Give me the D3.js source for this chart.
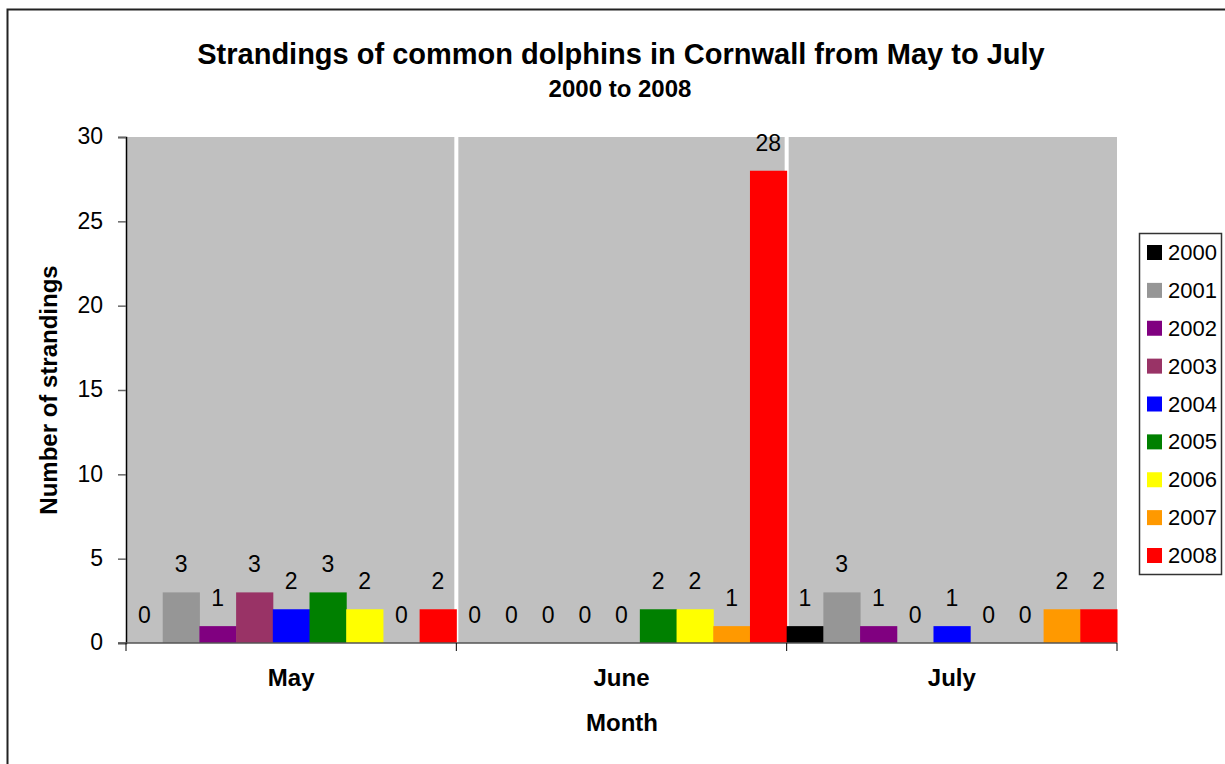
<!DOCTYPE html>
<html>
<head>
<meta charset="utf-8">
<script src="https://cdn.jsdelivr.net/npm/d3@7"></script>
<style>
  body { margin: 0; background: #fff; }
  svg { display: block; font-family: "Liberation Sans", Arial, sans-serif; }
</style>
</head>
<body>
<div id="chart"></div>
<script>
let months = ["May", "June", "July"];
let years = ["2000", "2001", "2002", "2003", "2004", "2005", "2006", "2007", "2008"];
let colors = ["#000000", "#969696", "#800080", "#993366", "#0000FF", "#008000", "#FFFF00", "#FF9900", "#FF0000"];
let may = [0, 3, 1, 3, 2, 3, 2, 0, 2];
let june = [0, 0, 0, 0, 0, 2, 2, 1, 28];
let july = [1, 3, 1, 0, 1, 0, 0, 2, 2];
let yTicks = [0, 5, 10, 15, 20, 25, 30];

let values = [may, june, july];

let width = 1225;
let height = 764;
let plot = { left: 126, right: 1117, top: 137, bottom: 643 };

let svg = d3.select("#chart").append("svg")
  .attr("width", width)
  .attr("height", height);

// outer chart border
svg.append("rect")
  .attr("x", 7.5).attr("y", 9.5)
  .attr("width", 1240).attr("height", 800)
  .attr("fill", "#fff")
  .attr("stroke", "#222")
  .attr("stroke-width", 2);

let x0 = d3.scaleBand()
  .domain(months)
  .range([plot.left, plot.right])
  .padding(0);

let x1 = d3.scaleBand()
  .domain(years)
  .range([0, x0.bandwidth()])
  .padding(0);

let y = d3.scaleLinear()
  .domain([0, 30])
  .range([plot.bottom, plot.top]);

// plot background
svg.append("rect")
  .attr("x", plot.left).attr("y", plot.top)
  .attr("width", plot.right - plot.left)
  .attr("height", plot.bottom - plot.top)
  .attr("fill", "#C0C0C0");

// white separators between months
svg.selectAll(".sep")
  .data(months.slice(1))
  .enter().append("line")
  .attr("x1", function(d) { return x0(d); })
  .attr("x2", function(d) { return x0(d); })
  .attr("y1", plot.top).attr("y2", plot.bottom)
  .attr("stroke", "#fff")
  .attr("stroke-width", 4);

// bars
let groups = svg.selectAll(".month")
  .data(months)
  .enter().append("g")
  .attr("class", "month")
  .attr("transform", function(d) { return "translate(" + x0(d) + ",0)"; });

groups.selectAll("rect")
  .data(function(d, i) {
    return values[i].map(function(v, j) { return { year: years[j], value: v, color: colors[j] }; });
  })
  .enter().append("rect")
  .attr("x", function(d) { return x1(d.year); })
  .attr("y", function(d) { return y(d.value); })
  .attr("width", x1.bandwidth() + 0.5)
  .attr("height", function(d) { return plot.bottom - y(d.value); })
  .attr("fill", function(d) { return d.color; });

groups.selectAll("text")
  .data(function(d, i) {
    return values[i].map(function(v, j) { return { year: years[j], value: v }; });
  })
  .enter().append("text")
  .attr("x", function(d) { return x1(d.year) + x1.bandwidth() / 2; })
  .attr("y", function(d) { return y(d.value) - 20; })
  .attr("text-anchor", "middle")
  .attr("font-size", 23)
  .attr("fill", "#000")
  .text(function(d) { return d.value; });

// y axis
let yAxis = svg.append("g")
  .attr("transform", "translate(" + plot.left + ",0)")
  .call(d3.axisLeft(y).tickValues(yTicks).tickSize(8).tickPadding(15));
yAxis.select(".domain").attr("stroke", "#000").attr("stroke-width", 1.5);
yAxis.selectAll(".tick line").attr("stroke", "#666").attr("stroke-width", 1.5);
yAxis.selectAll("text").attr("font-size", 23).attr("fill", "#000")
  .attr("dy", "0.3em")
  .attr("font-family", "Liberation Sans, Arial, sans-serif");

// x axis
svg.append("line")
  .attr("x1", plot.left - 8).attr("x2", plot.right)
  .attr("y1", plot.bottom).attr("y2", plot.bottom)
  .attr("stroke", "#555").attr("stroke-width", 1.5);

let bounds = months.map(function(m) { return x0(m); }).concat([plot.right]);
svg.selectAll(".xtick")
  .data(bounds)
  .enter().append("line")
  .attr("x1", function(d) { return d; })
  .attr("x2", function(d) { return d; })
  .attr("y1", plot.bottom).attr("y2", plot.bottom + 8)
  .attr("stroke", "#000").attr("stroke-width", 1);

svg.selectAll(".xlabel")
  .data(months)
  .enter().append("text")
  .attr("x", function(d) { return x0(d) + x0.bandwidth() / 2; })
  .attr("y", 686)
  .attr("text-anchor", "middle")
  .attr("font-size", 24)
  .attr("font-weight", "bold")
  .text(function(d) { return d; });

// titles
svg.append("text")
  .attr("x", 621).attr("y", 64)
  .attr("text-anchor", "middle")
  .attr("font-size", 29)
  .attr("font-weight", "bold")
  .text("Strandings of common dolphins in Cornwall from May to July");

svg.append("text")
  .attr("x", 620).attr("y", 97)
  .attr("text-anchor", "middle")
  .attr("font-size", 24)
  .attr("font-weight", "bold")
  .text("2000 to 2008");

svg.append("text")
  .attr("x", 622).attr("y", 731)
  .attr("text-anchor", "middle")
  .attr("font-size", 24)
  .attr("font-weight", "bold")
  .text("Month");

svg.append("text")
  .attr("transform", "translate(57,390) rotate(-90)")
  .attr("text-anchor", "middle")
  .attr("font-size", 24)
  .attr("font-weight", "bold")
  .text("Number of strandings");

// legend
let legend = svg.append("g");
legend.append("rect")
  .attr("x", 1139.5).attr("y", 233.5)
  .attr("width", 82).attr("height", 341)
  .attr("fill", "#fff")
  .attr("stroke", "#333")
  .attr("stroke-width", 1.5);

let ly = d3.scalePoint().domain(years).range([252, 555]);

let items = legend.selectAll(".item")
  .data(years)
  .enter().append("g")
  .attr("transform", function(d) { return "translate(1147," + ly(d) + ")"; });

items.append("rect")
  .attr("x", 0).attr("y", -7)
  .attr("width", 15).attr("height", 15)
  .attr("fill", function(d, i) { return colors[i]; });

items.append("text")
  .attr("x", 21).attr("y", 8)
  .attr("font-size", 22)
  .text(function(d) { return d; });
</script>
</body>
</html>
